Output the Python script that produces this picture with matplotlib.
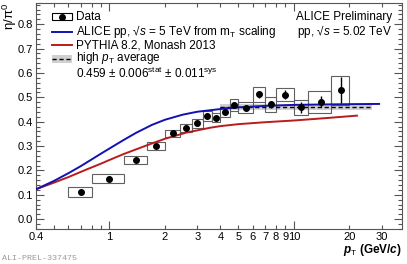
import numpy as np
import matplotlib.pyplot as plt
from matplotlib.patches import Rectangle
from matplotlib.lines import Line2D
from matplotlib.ticker import FixedLocator, FixedFormatter, MultipleLocator, FormatStrFormatter

plt.rcParams['font.family'] = ['Liberation Sans', 'DejaVu Sans']
plt.rcParams['mathtext.fontset'] = 'custom'
plt.rcParams['mathtext.rm'] = 'Liberation Sans'
plt.rcParams['mathtext.it'] = 'Liberation Sans:italic'
plt.rcParams['mathtext.bf'] = 'Liberation Sans:bold'
plt.rcParams['mathtext.bfit'] = 'Liberation Sans:bold:italic'

# eta/pi0 data points, bin edges, stat + sys errors
pt = [0.7, 1.0, 1.4, 1.8, 2.2, 2.6, 3.0, 3.4, 3.8, 4.25, 4.75, 5.5, 6.5, 7.5, 9.0, 11.0, 14.0, 18.0]
pt_lo = [0.6, 0.8, 1.2, 1.6, 2.0, 2.4, 2.8, 3.2, 3.6, 4.0, 4.5, 5.0, 6.0, 7.0, 8.0, 10.0, 12.0, 16.0]
pt_hi = [0.8, 1.2, 1.6, 2.0, 2.4, 2.8, 3.2, 3.6, 4.0, 4.5, 5.0, 6.0, 7.0, 8.0, 10.0, 12.0, 16.0, 20.0]
ratio = [0.112, 0.167, 0.243, 0.302, 0.352, 0.373, 0.394, 0.424, 0.416, 0.441, 0.468, 0.458, 0.512, 0.471, 0.511, 0.459, 0.482, 0.529]
stat = [0.012, 0.006, 0.005, 0.005, 0.005, 0.006, 0.007, 0.008, 0.009, 0.010, 0.011, 0.012, 0.016, 0.016, 0.018, 0.022, 0.022, 0.053]
sys = [0.021, 0.018, 0.016, 0.016, 0.016, 0.017, 0.018, 0.019, 0.019, 0.020, 0.024, 0.023, 0.032, 0.030, 0.026, 0.030, 0.045, 0.059]

# mT scaling curve (ALICE pp 5 TeV)
mt_pt = [0.4, 0.5, 0.6, 0.7, 0.8, 0.9, 1.0, 1.2, 1.4, 1.7, 2.0, 2.5, 3.0, 4.0, 5.0, 7.0, 10.0, 15.0, 20.0, 29.0]
mt_ratio = [0.123, 0.157, 0.189, 0.218, 0.245, 0.269, 0.29, 0.326, 0.355, 0.387, 0.408, 0.429, 0.441, 0.452, 0.459, 0.465, 0.469, 0.471, 0.472, 0.473]

# PYTHIA 8.2 Monash 2013
py_pt = [0.4, 0.5, 0.6, 0.74, 0.9, 1.0, 1.2, 1.4, 1.7, 2.0, 2.6, 3.5, 4.0, 5.0, 7.0, 10.0, 15.0, 22.0]
py_ratio = [0.123, 0.15, 0.173, 0.202, 0.228, 0.243, 0.268, 0.287, 0.311, 0.33, 0.355, 0.375, 0.382, 0.39, 0.398, 0.405, 0.415, 0.425]

# high pT average
avg_val = 0.459
avg_err = 0.012
avg_range = [4.0, 26.5]

blue = '#1212b0'
red = '#b81c1c'
axcol = '#555555'

fig = plt.figure(figsize=(4.07, 2.64), dpi=100)
ax = fig.add_axes([36/407, 1-229/264, 366/407, 226.5/264])

ax.set_xscale('log')
ax.set_xlim(0.4, 38.6)
ax.set_ylim(-0.04, 0.889)

ax.fill_between(avg_range, avg_val-avg_err, avg_val+avg_err, color='#d0d0d0', lw=0, zorder=1)
for lo, hi, y, s in zip(pt_lo, pt_hi, ratio, sys):
    ax.add_patch(Rectangle((lo, y-s), hi-lo, 2*s, fill=False, ec='#606060', lw=0.8, zorder=2))
ax.plot(avg_range, [avg_val, avg_val], color='black', ls=(0, (3, 2)), lw=1.0, zorder=2.5)
ax.plot(py_pt, py_ratio, color=red, lw=1.4, zorder=3)
ax.plot(mt_pt, mt_ratio, color=blue, lw=1.4, zorder=3)
ax.errorbar(pt, ratio, yerr=stat, fmt='o', color='black', ms=4, elinewidth=1.0, capsize=0, zorder=4)

# ticks
ax.xaxis.set_major_locator(FixedLocator([1, 10]))
ax.xaxis.set_major_formatter(FixedFormatter(['1', '10']))
minor_x = [0.4, 0.5, 0.6, 0.7, 0.8, 0.9, 2, 3, 4, 5, 6, 7, 8, 9, 20, 30]
minor_lab = ['0.4', '', '', '', '', '', '2', '3', '4', '5', '6', '7', '8', '9', '20', '30']
ax.xaxis.set_minor_locator(FixedLocator(minor_x))
ax.xaxis.set_minor_formatter(FixedFormatter(minor_lab))
ax.yaxis.set_major_locator(MultipleLocator(0.1))
ax.yaxis.set_minor_locator(MultipleLocator(0.02))
ax.yaxis.set_major_formatter(FormatStrFormatter('%.1f'))

ax.tick_params(which='both', direction='in', top=True, right=True, color=axcol, labelsize=8, width=0.8)
ax.tick_params(which='major', length=6)
ax.tick_params(which='minor', length=3)
ax.tick_params(axis='x', which='both', pad=2)
ax.tick_params(axis='y', which='both', pad=2)
for sp in ax.spines.values():
    sp.set_color(axcol)
    sp.set_linewidth(0.8)

# legend drawn by hand, ROOT style
T = ax.transAxes
x0, x1 = 0.0437, 0.0984
xt = 0.109
rows = [0.937, 0.870, 0.811, 0.749, 0.688]
ax.add_patch(Rectangle((x0, rows[0]-0.016), x1-x0, 0.032, fill=False, ec='black', lw=0.8, transform=T, zorder=5))
ax.add_line(Line2D([(x0+x1)/2], [rows[0]], marker='o', color='black', ms=4, transform=T))
ax.add_line(Line2D([x0, x1], [rows[1], rows[1]], color=blue, lw=1.4, transform=T))
ax.add_line(Line2D([x0, x1], [rows[2], rows[2]], color=red, lw=1.4, transform=T))
ax.add_patch(Rectangle((x0, rows[3]-0.018), x1-x0, 0.036, color='#d0d0d0', lw=0, transform=T))
ax.add_line(Line2D([x0, x1], [rows[3], rows[3]], color='black', ls=(0, (3, 2)), lw=1.0, transform=T))
fs = 8.5
ax.text(xt, rows[0], 'Data', transform=T, fontsize=fs, va='center')
ax.text(xt, rows[1], r'ALICE pp, √$s$ = 5 TeV from m$_{\rm T}$ scaling', transform=T, fontsize=fs, va='center')
ax.text(xt, rows[2], 'PYTHIA 8.2, Monash 2013', transform=T, fontsize=fs, va='center')
ax.text(xt, rows[3] + 0.006, r'high $p_{\rm T}$ average', transform=T, fontsize=fs, va='center')
ax.text(xt, rows[4], r'0.459 $\pm$ 0.006$^{\rm stat}$ $\pm$ 0.011$^{\rm sys}$', transform=T, fontsize=fs, va='center')

ax.text(0.973, 0.937, 'ALICE Preliminary', transform=T, fontsize=fs, ha='right', va='center')
ax.text(0.973, 0.870, r'pp, √$s$ = 5.02 TeV', transform=T, fontsize=fs, ha='right', va='center')

# axis titles
fig.text(402/407, 1-253/264, r'$\mathbfit{p}_{\rm T}$ (GeV/$\mathbfit{c}$)', fontsize=8.5, fontweight='bold', ha='right', va='baseline')
fig.text(9.5/407, 1-3/264, r'η/π$^{0}$', fontsize=9.5, rotation=90, ha='center', va='top')
fig.text(2/407, 1-258/264, 'ALI-PREL-337475', fontsize=6, family='Liberation Mono', color='#999999', va='center')

fig.savefig('out.png', dpi=100)
